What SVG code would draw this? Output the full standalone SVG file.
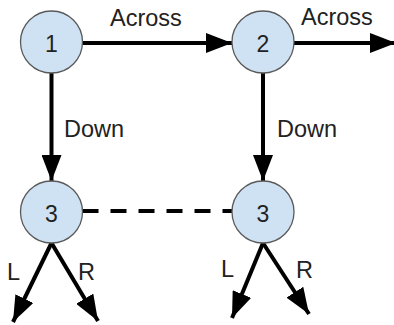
<svg xmlns="http://www.w3.org/2000/svg" width="394" height="325" viewBox="0 0 394 325">
<style>
.node{fill:#cfe2f3;stroke:#595959;stroke-width:1.3}
.num{font-family:"Liberation Sans",Arial,sans-serif;font-size:23px;fill:#222;text-anchor:middle}
.lbl{font-family:"Liberation Sans",Arial,sans-serif;font-size:23.5px;fill:#222}
.edge{stroke:#000;stroke-width:4;fill:none}
</style>
<defs>
<marker id="ah" markerUnits="userSpaceOnUse" markerWidth="26" markerHeight="20" refX="26" refY="10" orient="auto" viewBox="0 0 26 20">
<path d="M0,0 L26,10 L0,20 z" fill="#000"/>
</marker>
</defs>
<rect width="394" height="325" fill="#fff"/>
<g id="connectors">
<line class="edge" x1="82.5" y1="43" x2="232" y2="43" marker-end="url(#ah)"/>
<line class="edge" x1="294" y1="43" x2="396" y2="43" marker-end="url(#ah)"/>
<line class="edge" x1="51.5" y1="73" x2="51.5" y2="181" marker-end="url(#ah)"/>
<line class="edge" x1="263" y1="73" x2="263" y2="181" marker-end="url(#ah)"/>
<line class="edge" x1="82.5" y1="211" x2="232" y2="211" stroke-dasharray="16 12"/>
<line class="edge" x1="51.5" y1="243" x2="13" y2="322" marker-end="url(#ah)"/>
<line class="edge" x1="51.5" y1="243" x2="98" y2="321" marker-end="url(#ah)"/>
<line class="edge" x1="263" y1="243" x2="232" y2="318" marker-end="url(#ah)"/>
<line class="edge" x1="263" y1="243" x2="309" y2="314" marker-end="url(#ah)"/>
<text class="lbl" x="110" y="25.5">Across</text>
<text class="lbl" x="301" y="25">Across</text>
<text class="lbl" x="64" y="137">Down</text>
<text class="lbl" x="277" y="137">Down</text>
<text class="lbl" x="7" y="280">L</text>
<text class="lbl" x="78" y="280">R</text>
<text class="lbl" x="221" y="277">L</text>
<text class="lbl" x="296" y="278">R</text>
</g>
<g id="n1"><circle class="node" cx="51.5" cy="42" r="31"/><text class="num" x="51.5" y="51.5">1</text></g>
<g id="n2"><circle class="node" cx="263" cy="42" r="31"/><text class="num" x="263" y="51.5">2</text></g>
<g id="n3a"><circle class="node" cx="51.5" cy="212" r="31"/><text class="num" x="51.5" y="221.5">3</text></g>
<g id="n3b"><circle class="node" cx="263" cy="212" r="31"/><text class="num" x="263" y="221.5">3</text></g>
</svg>
